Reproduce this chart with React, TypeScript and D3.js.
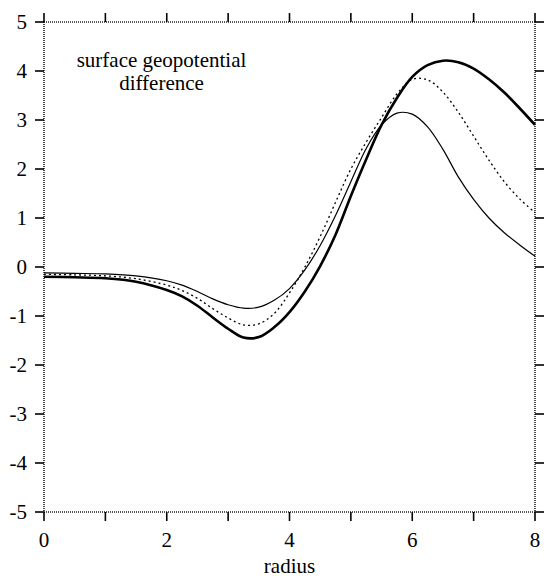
import React from "react";
import * as d3 from "d3";

const radius = [0, 0.5, 1, 1.5, 2, 2.25, 2.5, 2.75, 3, 3.25, 3.5, 3.75, 4, 4.25, 4.5, 4.75, 5, 5.25, 5.5, 5.75, 6, 6.25, 6.5, 6.75, 7, 7.25, 7.5, 7.75, 8];

const thinSeries = [-0.12, -0.13, -0.14, -0.18, -0.28, -0.37, -0.5, -0.65, -0.77, -0.84, -0.82, -0.68, -0.44, -0.06, 0.44, 1.05, 1.74, 2.42, 2.9, 3.14, 3.12, 2.86, 2.4, 1.84, 1.38, 1.0, 0.7, 0.45, 0.22];
const dottedSeries = [-0.15, -0.16, -0.18, -0.24, -0.37, -0.48, -0.64, -0.85, -1.04, -1.18, -1.16, -0.95, -0.53, 0.0, 0.62, 1.32, 2.0, 2.55, 3.05, 3.53, 3.83, 3.82, 3.57, 3.16, 2.67, 2.18, 1.74, 1.39, 1.11];
const thickSeries = [-0.2, -0.21, -0.23, -0.3, -0.47, -0.6, -0.79, -1.03, -1.26, -1.44, -1.43, -1.23, -0.92, -0.5, 0.02, 0.66, 1.45, 2.2, 2.9, 3.45, 3.88, 4.12, 4.21, 4.18, 4.05, 3.83, 3.56, 3.24, 2.9];

const xTicks = [0, 1, 2, 3, 4, 5, 6, 7, 8];
const xLabels = [0, 2, 4, 6, 8];
const yTicks = [-5, -4, -3, -2, -1, 0, 1, 2, 3, 4, 5];

const W = 544;
const H = 579;
const left = 44, right = 535, top = 22, bottom = 512;
const font = "'Liberation Serif', 'Times New Roman', serif";

export default function App() {
  const x = d3.scaleLinear().domain([0, 8]).range([left, right]);
  const y = d3.scaleLinear().domain([-5, 5]).range([bottom, top]);
  const line = (vals: number[]) =>
    d3
      .line<number>()
      .x((_, i) => x(radius[i]))
      .y((v) => y(v))
      .curve(d3.curveCatmullRom.alpha(0.5))(vals) as string;

  const tl = 9;
  return (
    <svg width={W} height={H} style={{ position: "absolute", left: 0, top: 0, background: "#fff" }}>
      <rect x={0} y={0} width={W} height={H} fill="#fff" />
      <g fill="none" stroke="#222" strokeWidth={1.6} strokeDasharray="1,1">
        <line x1={left} y1={top} x2={right} y2={top} />
        <line x1={left} y1={bottom} x2={right} y2={bottom} />
        <line x1={left} y1={top} x2={left} y2={bottom} />
        <line x1={right} y1={top} x2={right} y2={bottom} />
      </g>
      <g stroke="#000" strokeWidth={1.6}>
        {xTicks.map((t) => (
          <g key={"x" + t}>
            <line x1={x(t)} x2={x(t)} y1={bottom} y2={bottom + tl} />
            <line x1={x(t)} x2={x(t)} y1={top} y2={top - tl} />
          </g>
        ))}
        {yTicks.map((t) => (
          <g key={"y" + t}>
            <line x1={left - tl} x2={left} y1={y(t)} y2={y(t)} />
            <line x1={right} x2={right + tl} y1={y(t)} y2={y(t)} />
          </g>
        ))}
      </g>
      <g fontFamily={font} fontSize={21} fill="#000">
        {yTicks.map((t) => (
          <text key={"yl" + t} x={27} y={y(t) + 7} textAnchor="end">
            {t < 0 ? "-" + Math.abs(t) : String(t)}
          </text>
        ))}
        {xLabels.map((t) => (
          <text key={"xl" + t} x={x(t)} y={547} textAnchor="middle">
            {t}
          </text>
        ))}
        <text x={(left + right) / 2} y={573} textAnchor="middle">radius</text>
        <text x={161.5} y={67} textAnchor="middle">surface geopotential</text>
        <text x={161.5} y={90} textAnchor="middle">difference</text>
      </g>
      <g fill="none" stroke="#000">
        <path d={line(thinSeries)} strokeWidth={1.2} />
        <path d={line(dottedSeries)} strokeWidth={1.3} strokeDasharray="2,3" />
        <path d={line(thickSeries)} strokeWidth={2.6} />
      </g>
    </svg>
  );
}
